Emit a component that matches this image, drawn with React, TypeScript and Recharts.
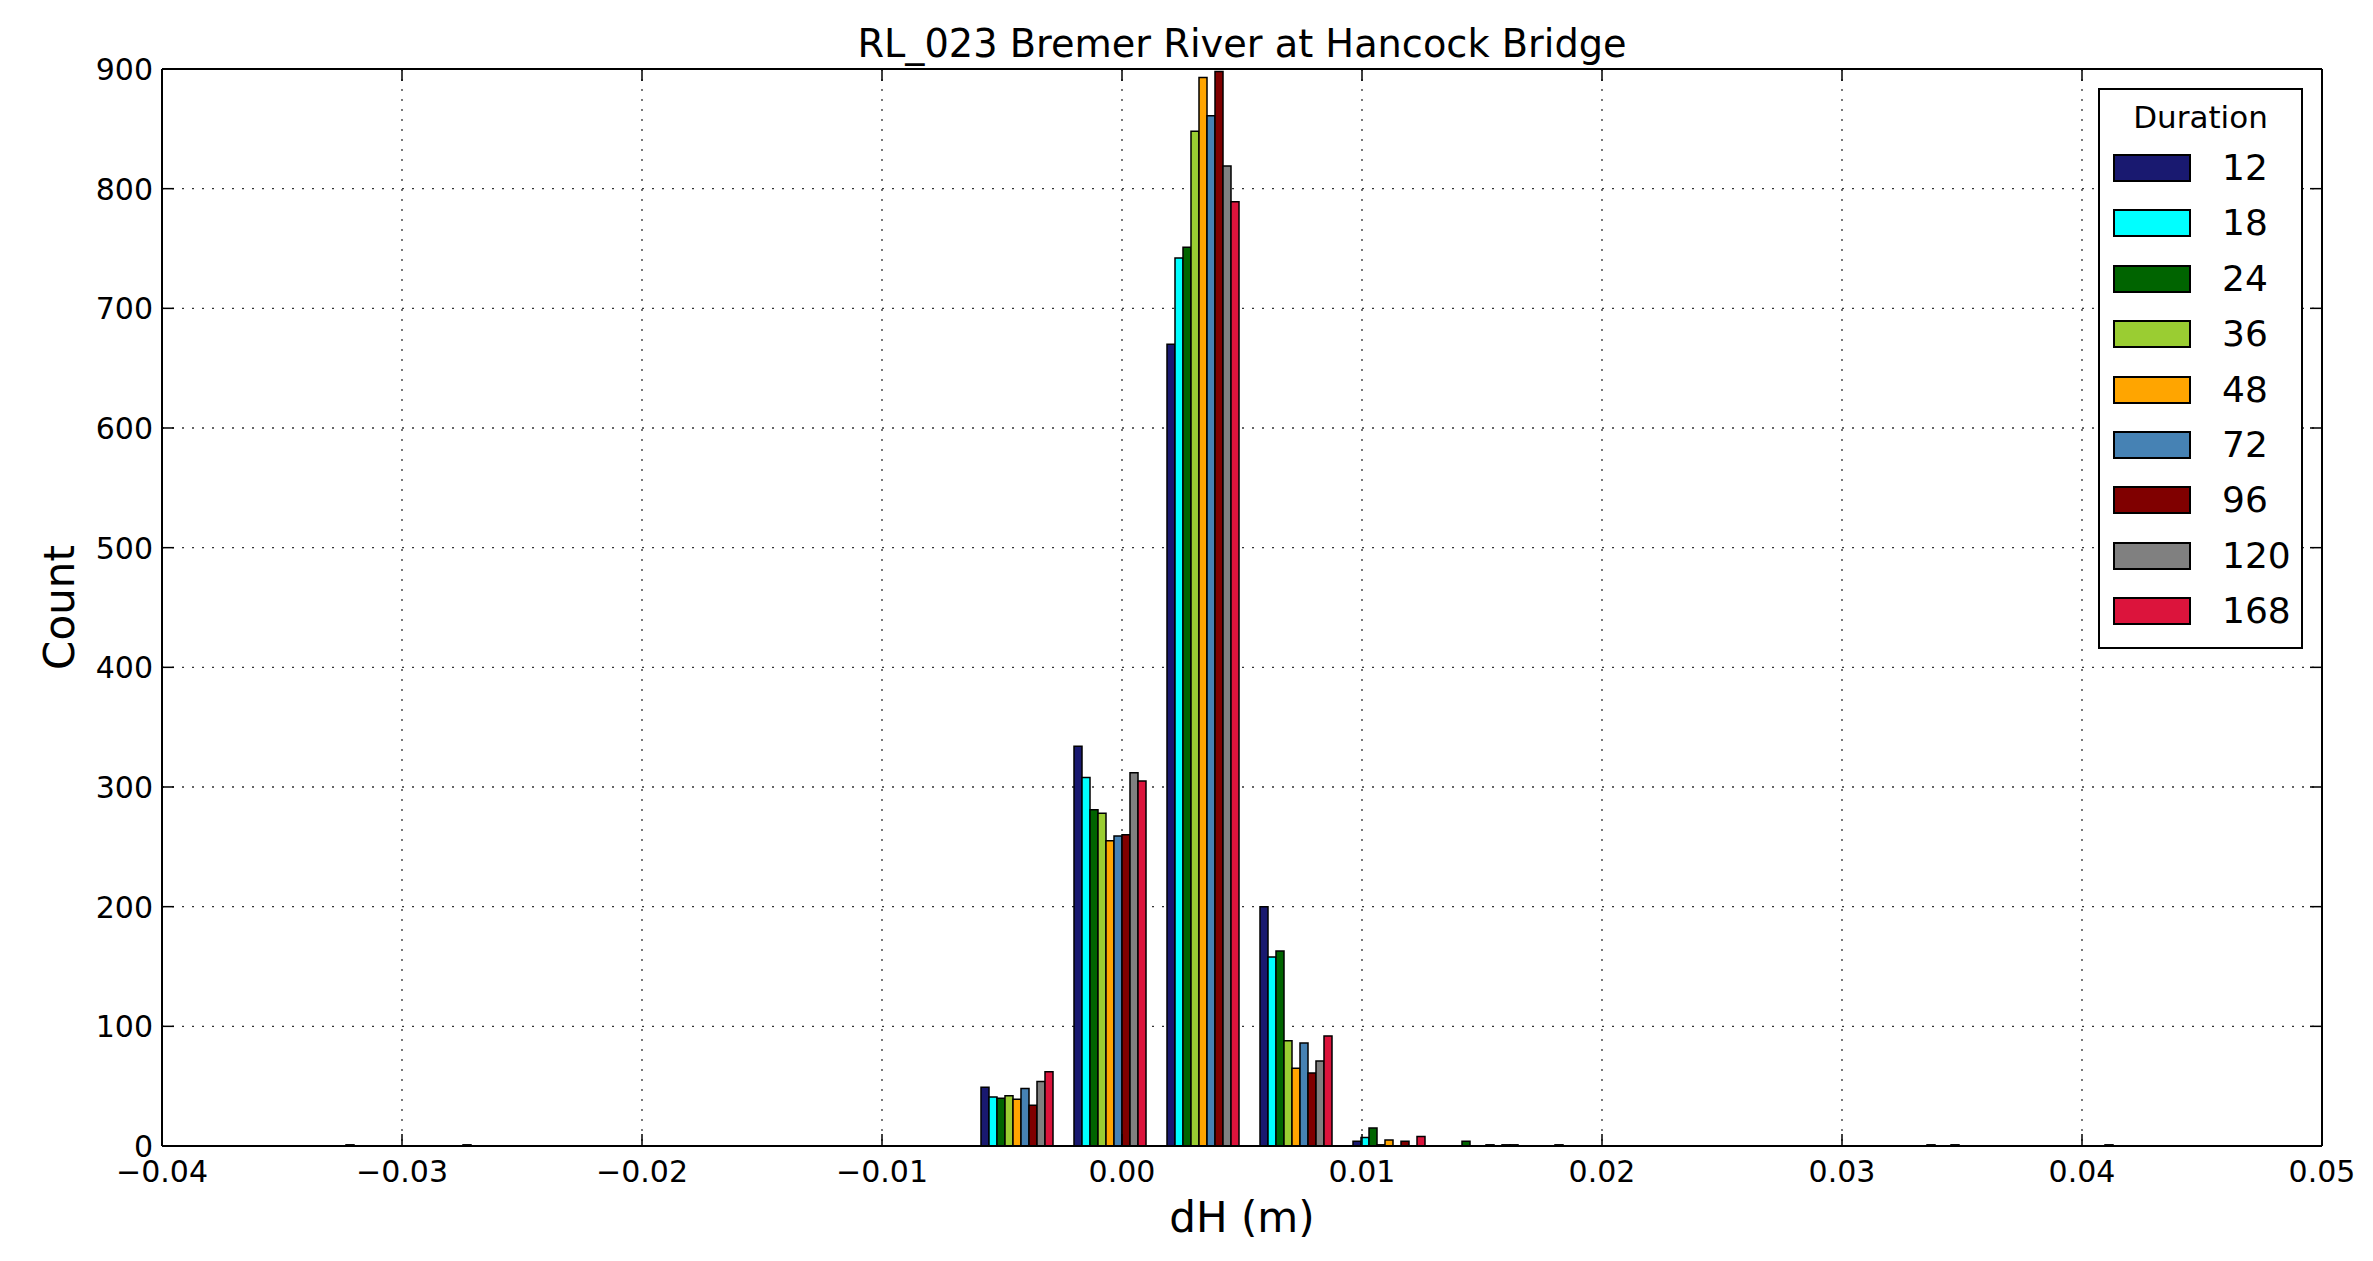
import React from 'react';
import { ComposedChart, Bar, XAxis, YAxis, CartesianGrid } from 'recharts';

// Histogram bin centres (dH, m) — 20 bins
const binCenters = [
  -0.031450, -0.027575, -0.023700, -0.019825, -0.015950, -0.012075, -0.008200,
  -0.004325, -0.000450, 0.003425, 0.007300, 0.011175, 0.015050, 0.018925,
  0.022800, 0.026675, 0.030550, 0.034425, 0.038300, 0.042175,
];

const durations = ['12', '18', '24', '36', '48', '72', '96', '120', '168'];
const colors = ['#191970', '#00FFFF', '#006400', '#9ACD32', '#FFA500', '#4682B4', '#800000', '#808080', '#DC143C'];

const count12 = [0, 0, 0, 0, 0, 0, 0, 49, 334, 670, 200, 4, 0, 0, 0, 0, 0, 0, 0, 0];
const count18 = [0, 0, 0, 0, 0, 0, 0, 41, 308, 742, 158, 7, 0, 0, 0, 0, 0, 0, 0, 1];
const count24 = [1, 0, 0, 0, 0, 0, 0, 40, 281, 751, 163, 15, 4, 1, 0, 0, 0, 1, 0, 0];
const count36 = [0, 0, 0, 0, 0, 0, 0, 42, 278, 848, 88, 1, 0, 0, 0, 0, 0, 0, 0, 0];
const count48 = [0, 0, 0, 0, 0, 0, 0, 39, 255, 893, 65, 5, 0, 0, 0, 0, 0, 0, 0, 0];
const count72 = [0, 1, 0, 0, 0, 0, 0, 48, 259, 861, 86, 0, 1, 0, 0, 0, 0, 1, 0, 0];
const count96 = [0, 0, 0, 0, 0, 0, 0, 34, 260, 898, 61, 4, 0, 0, 0, 0, 0, 0, 0, 0];
const count120 = [0, 0, 0, 0, 0, 0, 0, 54, 312, 819, 71, 0, 1, 0, 0, 0, 0, 0, 0, 0];
const count168 = [0, 0, 0, 0, 0, 0, 0, 62, 305, 789, 92, 8, 1, 0, 0, 0, 0, 0, 0, 0];

const seriesCounts = [count12, count18, count24, count36, count48, count72, count96, count120, count168];

const xTicks = [-0.04, -0.03, -0.02, -0.01, 0, 0.01, 0.02, 0.03, 0.04, 0.05];
const xTickLabels = ['\u22120.04', '\u22120.03', '\u22120.02', '\u22120.01', '0.00', '0.01', '0.02', '0.03', '0.04', '0.05'];
const yTicks = [0, 100, 200, 300, 400, 500, 600, 700, 800, 900];
const yTickLabels = ['0', '100', '200', '300', '400', '500', '600', '700', '800', '900'];

const title = 'RL_023 Bremer River at Hancock Bridge';
const xLabel = 'dH (m)';
const yLabel = 'Count';
const legendTitle = 'Duration';

const data = binCenters.map((x, i) => {
  const row: any = { x };
  durations.forEach((d, s) => {
    row['s' + d] = seriesCounts[s][i];
  });
  return row;
});

const FONT = 'DejaVu Sans, Liberation Sans, sans-serif';
const W = 2365;
const H = 1253;
// plot area: left 154, top 61, right 2314, bottom 1138 (chart coords)
const PLOT_LEFT = 154;
const PLOT_TOP = 61;
const PLOT_RIGHT = 2314;
const PLOT_BOTTOM = 1138;
const M = { top: PLOT_TOP - 1, left: PLOT_LEFT - 1, right: W - PLOT_RIGHT - 1, bottom: H - PLOT_BOTTOM - 1 };
const TICK_LEN = 12;

const isEnd = (index: number, n: number) => index === 0 || index === n - 1;

// bottom tick (inward) + mirrored top tick + label
const BottomTick = (props: any) => {
  const { x, y, index } = props;
  const end = isEnd(index, xTicks.length);
  return (
    <g>
      {!end && <line x1={x} y1={y} x2={x} y2={y - TICK_LEN} stroke="#000" strokeWidth={1.5} />}
      {!end && (
        <line x1={x} y1={PLOT_TOP} x2={x} y2={PLOT_TOP + TICK_LEN} stroke="#000" strokeWidth={1.5} />
      )}
      <text x={x} y={y + 36} textAnchor="middle" fontSize={30} fontFamily={FONT} fill="#000">
        {xTickLabels[index]}
      </text>
    </g>
  );
};

// left tick (inward) + mirrored right tick + label
const LeftTick = (props: any) => {
  const { x, y, index } = props;
  const end = isEnd(index, yTicks.length);
  return (
    <g>
      {!end && <line x1={x} y1={y} x2={x + TICK_LEN} y2={y} stroke="#000" strokeWidth={1.5} />}
      {!end && (
        <line x1={PLOT_RIGHT} y1={y} x2={PLOT_RIGHT - TICK_LEN} y2={y} stroke="#000" strokeWidth={1.5} />
      )}
      <text x={x - 9} y={y + 11} textAnchor="end" fontSize={30} fontFamily={FONT} fill="#000">
        {yTickLabels[index]}
      </text>
    </g>
  );
};

const LegendBox = () => (
  <div
    style={{
      position: 'absolute',
      left: 2090,
      top: 80,
      width: 205,
      height: 561,
      border: '2px solid #000',
      boxSizing: 'border-box',
      background: '#fff',
      fontFamily: FONT,
    }}
  >
    <div
      style={{
        position: 'absolute',
        left: 0,
        width: '100%',
        top: 9,
        lineHeight: '36px',
        fontSize: 31,
        textAlign: 'center',
      }}
    >
      {legendTitle}
    </div>
    {durations.map((d, k) => (
      <div
        key={d}
        style={{
          position: 'absolute',
          left: 13,
          top: 50 + 55.4 * k,
          height: 56,
          display: 'flex',
          alignItems: 'center',
        }}
      >
        <div
          style={{
            width: 78,
            height: 28,
            background: colors[k],
            border: '2px solid #000',
            boxSizing: 'border-box',
          }}
        />
        <div style={{ marginLeft: 31, fontSize: 36, lineHeight: '56px' }}>{d}</div>
      </div>
    ))}
  </div>
);

export default function App() {
  const plotCx = PLOT_LEFT + (PLOT_RIGHT - PLOT_LEFT) / 2;
  const plotCy = PLOT_TOP + (PLOT_BOTTOM - PLOT_TOP) / 2;
  return (
    <div style={{ position: 'relative', width: W, height: H, fontFamily: FONT }}>
      <ComposedChart
        width={W}
        height={H}
        data={data}
        margin={M}
        barGap={0}
        barCategoryGap="10%"
      >
        <XAxis
          dataKey="x"
          type="number"
          domain={[-0.04, 0.05]}
          ticks={xTicks}
          interval={0}
          allowDataOverflow
          height={1}
          tickSize={0}
          tickMargin={0}
          tickLine={false}
          tick={BottomTick}
          axisLine={{ stroke: '#000', strokeWidth: 2 }}
        />
        <XAxis
          xAxisId="top"
          orientation="top"
          type="number"
          domain={[-0.04, 0.05]}
          height={1}
          tick={false}
          tickLine={false}
          axisLine={{ stroke: '#000', strokeWidth: 2 }}
        />
        <YAxis
          type="number"
          domain={[0, 900]}
          ticks={yTicks}
          interval={0}
          allowDataOverflow
          width={1}
          tickSize={0}
          tickMargin={0}
          tickLine={false}
          tick={LeftTick}
          axisLine={{ stroke: '#000', strokeWidth: 2 }}
        />
        <YAxis
          yAxisId="right"
          orientation="right"
          type="number"
          domain={[0, 900]}
          width={1}
          tick={false}
          tickLine={false}
          axisLine={{ stroke: '#000', strokeWidth: 2 }}
        />
        {durations.map((d, k) => (
          <Bar
            key={d}
            dataKey={'s' + d}
            name={d}
            fill={colors[k]}
            stroke="#000"
            strokeWidth={1.5}
            isAnimationActive={false}
          />
        ))}
        <CartesianGrid stroke="#333" strokeWidth={1.3} strokeDasharray="2 8" />
      </ComposedChart>
      <svg
        width={W}
        height={H}
        style={{ position: 'absolute', left: 0, top: 0, pointerEvents: 'none' }}
      >
        <text x={plotCx} y={49} textAnchor="middle" fontSize={38.3} fontFamily={FONT} fill="#000">
          {title}
        </text>
        <text x={plotCx} y={1224} textAnchor="middle" fontSize={42} fontFamily={FONT} fill="#000">
          {xLabel}
        </text>
        <text
          x={66}
          y={plotCy}
          textAnchor="middle"
          fontSize={42}
          fontFamily={FONT}
          fill="#000"
          transform={`rotate(-90 66 ${plotCy})`}
        >
          {yLabel}
        </text>
      </svg>
      <LegendBox />
    </div>
  );
}
